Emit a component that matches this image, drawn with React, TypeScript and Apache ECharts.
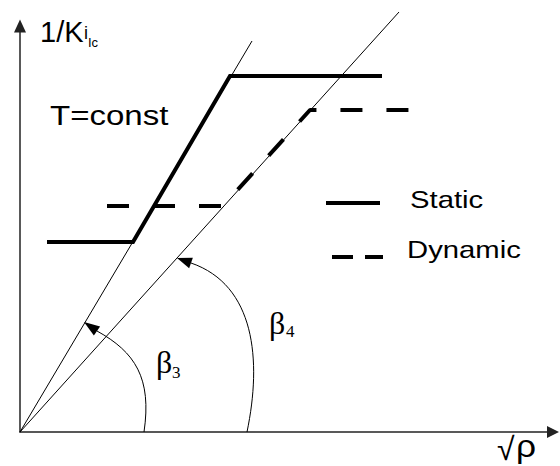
import React, { useEffect, useRef } from "react";
import * as echarts from "echarts";

// Data coordinates: origin of the sketch at (0,0); units follow the drawing.
const X_MAX = 531;
const Y_MAX = 404;

const ray3: number[][] = [[0, 0], [232, 391]];
const ray4: number[][] = [[0, 0], [379, 420]];
const staticCurve: number[][] = [[27, 190], [113, 190], [210, 356], [362, 356]];
const dynamicCurve: number[][] = [[87, 226], [203, 226], [290, 322], [396, 322]];

// Angle arcs: start, ctrl1, ctrl2, end, arrow tip
const arcBeta3: number[][] = [[124, 0], [132, 54], [115, 80], [77, 101], [64, 110]];
const arcBeta4: number[][] = [[227, 0], [242, 72], [235, 147], [171, 169], [157, 174]];
const arcs = [arcBeta3, arcBeta4];

const SANS = "'Liberation Sans', Arial, sans-serif";
const SERIF = "'Liberation Serif', 'Times New Roman', serif";

export default function App() {
  const ref = useRef<HTMLDivElement>(null);
  useEffect(() => {
    if (!ref.current) return;
    const chart = echarts.init(ref.current, undefined, { renderer: "svg" });
    const axisLine = (size: number[]) => ({
      show: true,
      symbol: ["none", "triangle"],
      symbolSize: size,
      symbolOffset: [0, 2],
      lineStyle: { color: "#222", width: 1.5 },
    });
    const txt = (text: string, x: number, y: number, size: number, family: string, sx = 1) => ({
      type: "text",
      x,
      y,
      scaleX: sx,
      style: { text, font: `${size}px ${family}`, fill: "#000", verticalAlign: "top", align: "left" },
    });
    chart.setOption({
      animation: false,
      backgroundColor: "#fff",
      grid: { left: 20, top: 28, width: 531, height: 404, containLabel: false, outerBoundsMode: "none" },
      xAxis: {
        type: "value", min: 0, max: X_MAX,
        axisLine: axisLine([12, 12]),
        axisTick: { show: false }, axisLabel: { show: false }, splitLine: { show: false },
      },
      yAxis: {
        type: "value", min: 0, max: Y_MAX,
        axisLine: axisLine([12, 13]),
        axisTick: { show: false }, axisLabel: { show: false }, splitLine: { show: false },
      },
      series: [
        { type: "line", data: ray3, symbol: "none", clip: false, lineStyle: { color: "#000", width: 1 } },
        { type: "line", data: ray4, symbol: "none", clip: false, lineStyle: { color: "#000", width: 1 } },
        { type: "line", name: "Static", data: staticCurve, symbol: "none", lineStyle: { color: "#000", width: 4, join: "miter" } },
        { type: "line", name: "Dynamic", data: dynamicCurve, symbol: "none", lineStyle: { color: "#000", width: 4, type: [22, 24] } },
        {
          type: "custom",
          data: arcs.map((a) => a[0]),
          clip: false,
          renderItem: (params: any, api: any) => {
            const a = arcs[params.dataIndex];
            const p = a.map((pt) => api.coord(pt));
            const [s, c1, c2, e, tip] = p;
            const dx = tip[0] - e[0];
            const dy = tip[1] - e[1];
            const len = Math.hypot(dx, dy) || 1;
            const nx = -dy / len, ny = dx / len;
            const hw = 5.5;
            return {
              type: "group",
              children: [
                {
                  type: "bezierCurve",
                  shape: { x1: s[0], y1: s[1], cpx1: c1[0], cpy1: c1[1], cpx2: c2[0], cpy2: c2[1], x2: e[0], y2: e[1] },
                  style: { stroke: "#000", lineWidth: 1, fill: "none" },
                },
                {
                  type: "polygon",
                  shape: { points: [tip, [e[0] + nx * hw, e[1] + ny * hw], [e[0] - nx * hw, e[1] - ny * hw]] },
                  style: { fill: "#000", stroke: "none" },
                },
              ],
            };
          },
        },
      ],
      graphic: [
        txt("1/K", 40, 17, 29, SANS),
        txt("i", 84, 24, 18, SANS),
        txt("Ic", 88, 36, 13, SANS),
        txt("T=const", 50, 101, 28, SANS, 1.18),
        txt("Static", 410, 188, 24, SANS, 1.22),
        txt("Dynamic", 407, 238, 24, SANS, 1.22),
        txt("β", 156, 346, 32, SERIF),
        txt("3", 172, 364, 17, SERIF),
        txt("β", 269, 307, 32, SERIF),
        txt("4", 286, 323, 17, SERIF),
        txt("√", 497, 433, 32, SANS),
        txt("ρ", 516, 430, 32, SANS, 1.1),
        { type: "line", shape: { x1: 326, y1: 203, x2: 380, y2: 203 }, style: { stroke: "#000", lineWidth: 4 } },
        { type: "line", shape: { x1: 332, y1: 257, x2: 353, y2: 257 }, style: { stroke: "#000", lineWidth: 4 } },
        { type: "line", shape: { x1: 365, y1: 257, x2: 383, y2: 257 }, style: { stroke: "#000", lineWidth: 4 } },
      ],
    });
    return () => chart.dispose();
  }, []);
  return <div ref={ref} style={{ position: "absolute", left: 0, top: 0, width: 560, height: 466 }} />;
}
